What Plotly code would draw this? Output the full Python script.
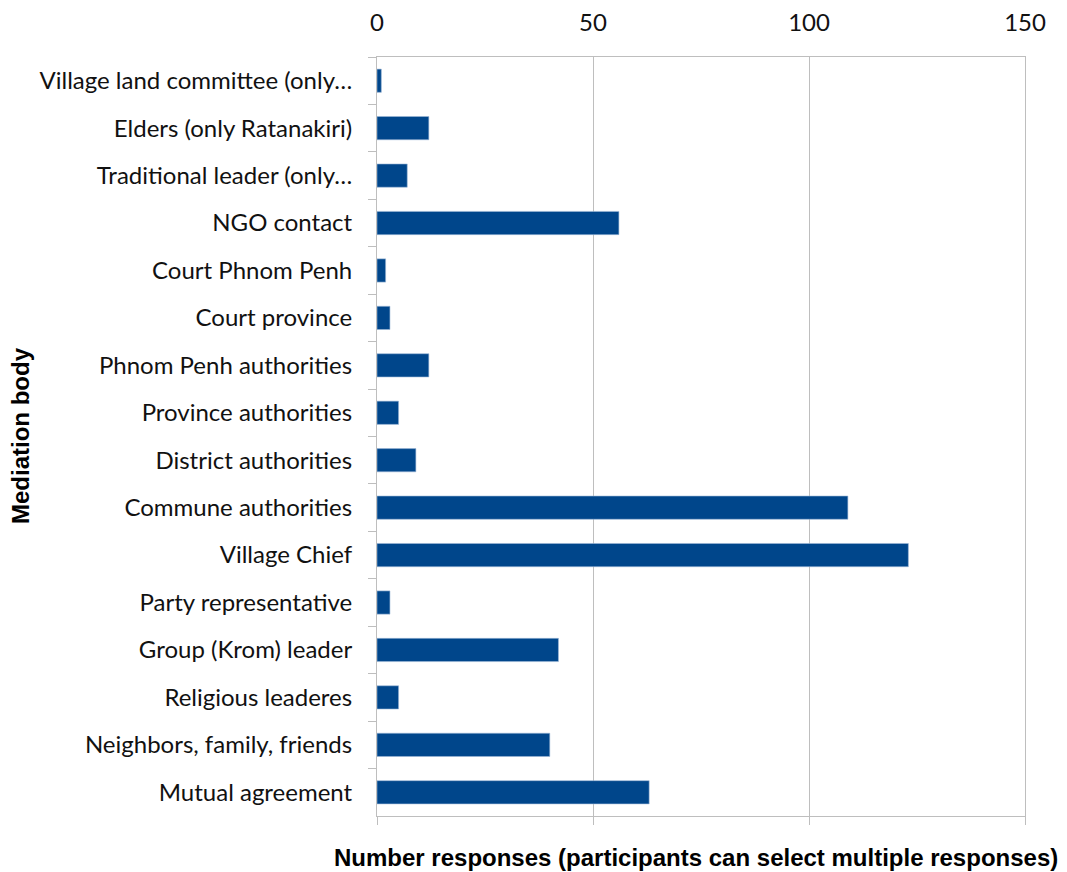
import plotly.graph_objects as go

# Mediation bodies, listed top to bottom
bodies = [
    "Village land committee (only…",
    "Elders (only Ratanakiri)",
    "Traditional leader (only…",
    "NGO contact",
    "Court Phnom Penh",
    "Court province",
    "Phnom Penh authorities",
    "Province authorities",
    "District authorities",
    "Commune authorities",
    "Village Chief",
    "Party representative",
    "Group (Krom) leader",
    "Religious leaderes",
    "Neighbors, family, friends",
    "Mutual agreement",
]
responses = [1, 12, 7, 56, 2, 3, 12, 5, 9, 109, 123, 3, 42, 5, 40, 63]
x_ticks = [0, 50, 100, 150]

BAR = "#00468B"
GRID = "#BEBEBE"
LABEL_FONT = "Lato, Open Sans, sans-serif"
TITLE_FONT = "Liberation Sans, Arial, sans-serif"

PLOT_L, PLOT_R, PLOT_T, PLOT_B = 377, 42, 57, 56
W, H = 1067, 872
plot_w = W - PLOT_L - PLOT_R
plot_h = H - PLOT_T - PLOT_B

fig = go.Figure()
fig.add_trace(go.Bar(
    x=responses, y=bodies, orientation="h",
    marker=dict(color=BAR, line=dict(color="#9DB8D6", width=0.6)),
    width=0.49, showlegend=False, hoverinfo="x+y",
))
# invisible companion trace to carry the bottom tick marks
fig.add_trace(go.Bar(x=[None], y=[bodies[0]], orientation="h", xaxis="x2",
                     showlegend=False, hoverinfo="skip"))

fig.update_layout(
    width=W, height=H,
    margin=dict(l=PLOT_L, r=PLOT_R, t=PLOT_T, b=PLOT_B),
    paper_bgcolor="white", plot_bgcolor="white",
    font=dict(family=LABEL_FONT, size=24, color="#111111"),
    xaxis=dict(
        side="top", range=[0, 150], tickvals=x_ticks, automargin=False,
        showgrid=True, gridcolor=GRID, gridwidth=1,
        showline=True, linecolor=GRID, linewidth=1, mirror=True,
        ticks="", ticklabelstandoff=15, zeroline=False,
        tickfont=dict(family=LABEL_FONT, size=24, color="#111111"),
    ),
    xaxis2=dict(
        overlaying="x", side="bottom", range=[0, 150], tickvals=x_ticks,
        showticklabels=False, ticks="outside", ticklen=8, tickcolor=GRID,
        showgrid=False, showline=False, zeroline=False, automargin=False,
    ),
    yaxis=dict(
        autorange="reversed", showgrid=False, zeroline=False, automargin=False,
        showline=True, linecolor=GRID, linewidth=1, mirror=True,
        ticks="outside", tickson="boundaries", ticklen=8, tickcolor=GRID,
        ticklabelstandoff=19,
        tickfont=dict(family=LABEL_FONT, size=24, color="#111111"),
    ),
    annotations=[
        dict(text="<b>Mediation body</b>", textangle=-90,
             xref="paper", yref="paper",
             x=(20 - PLOT_L) / plot_w, y=(H - PLOT_B - 436) / plot_h,
             xanchor="center", yanchor="middle", showarrow=False,
             font=dict(family=TITLE_FONT, size=24, color="#000000")),
        dict(text="<b>Number responses (participants can select multiple responses)</b>",
             xref="paper", yref="paper",
             x=(696 - PLOT_L) / plot_w, y=(H - PLOT_B - 858) / plot_h,
             xanchor="center", yanchor="middle", showarrow=False,
             font=dict(family=TITLE_FONT, size=24, color="#000000")),
    ],
)

fig.write_html("out.html")
